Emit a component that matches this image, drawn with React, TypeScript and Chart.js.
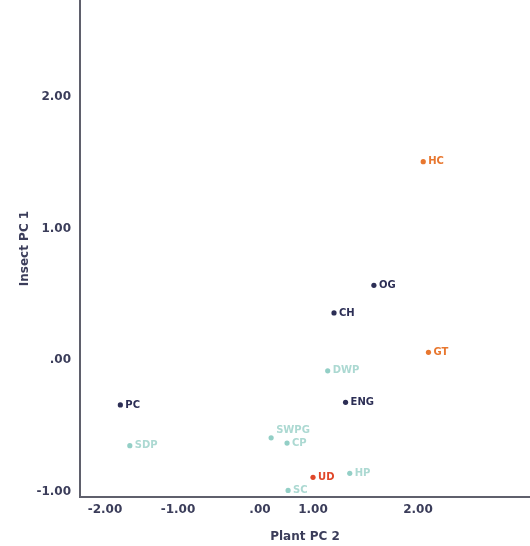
import React, { useEffect, useRef } from 'react';
import { Chart, registerables, LinearScale } from 'chart.js';

// ---- data ----
const sites = ['HC', 'OG', 'CH', 'GT', 'DWP', 'PC', 'ENG', 'SWPG', 'CP', 'SDP', 'UD', 'HP', 'SC'];
const plantPC2 = [2.05, 1.58, 1.2, 2.1, 1.14, -1.79, 1.31, 0.21, 0.51, -1.66, 1.0, 1.35, 0.53];
const insectPC1 = [1.51, 0.57, 0.36, 0.06, -0.08, -0.34, -0.32, -0.59, -0.63, -0.65, -0.89, -0.86, -0.99];
const siteGroup = ['orange', 'navy', 'navy', 'orange', 'teal', 'navy', 'navy', 'teal', 'teal', 'teal', 'red', 'teal', 'teal'];

const xTicks = [-2, -1, 0, 1, 2];
const yTicks = [-1, 0, 1, 2];

// The original figure's x axis is not evenly spaced: knot values and their
// fractional position along the axis.
const X_KNOT_VALUES = [-2.34, -2, -1, 0, 1, 2, 3.07];
const X_KNOT_FRACTIONS = [0, 0.0556, 0.2178, 0.4, 0.5178, 0.7511, 1];

const groupOrder = ['navy', 'orange', 'red', 'teal'];
const groupPointColor: Record<string, string> = {
  navy: '#2c2e55',
  orange: '#e8772f',
  red: '#e0472a',
  teal: '#93cfc6',
};
const groupLabelColor: Record<string, string> = {
  navy: '#2c2e55',
  orange: '#e8772f',
  red: '#e0472a',
  teal: '#acd9d2',
};
const labelNudgeY: Record<string, number> = { SWPG: -7 };

const AXIS_TEXT = '#3b3d5a';
const FONT = '"DejaVu Sans", sans-serif';

function interp(v: number, from: number[], to: number[]) {
  const n = from.length;
  let i = 0;
  if (v <= from[0]) i = 0;
  else if (v >= from[n - 1]) i = n - 2;
  else {
    while (i < n - 2 && v > from[i + 1]) i++;
  }
  const t = (v - from[i]) / (from[i + 1] - from[i]);
  return to[i] + t * (to[i + 1] - to[i]);
}

class PiecewiseScale extends LinearScale {
  static id = 'piecewise';
  static defaults = LinearScale.defaults;
  getPixelForValue(value: any) {
    if (value === null || value === undefined || isNaN(value)) return NaN;
    return this.getPixelForDecimal(interp(value, X_KNOT_VALUES, X_KNOT_FRACTIONS));
  }
  getValueForPixel(pixel: number) {
    return interp(this.getDecimalForPixel(pixel), X_KNOT_FRACTIONS, X_KNOT_VALUES);
  }
}

Chart.register(...registerables, PiecewiseScale as any);

const fmt = (v: any) => (Number(v) === 0 ? '.00' : Number(v).toFixed(2));

const pointLabelPlugin = {
  id: 'pointLabels',
  afterDatasetsDraw(chart: any) {
    const ctx = chart.ctx;
    ctx.save();
    ctx.font = `bold 10px ${FONT}`;
    ctx.textBaseline = 'middle';
    ctx.textAlign = 'left';
    chart.data.datasets.forEach((ds: any, di: number) => {
      const meta = chart.getDatasetMeta(di);
      meta.data.forEach((el: any, i: number) => {
        const name = ds.siteNames[i];
        ctx.fillStyle = ds.labelColor;
        ctx.fillText(name, el.x + 5, el.y + (labelNudgeY[name] || 0));
      });
    });
    ctx.restore();
  },
};

export default function App() {
  const canvasRef = useRef<HTMLCanvasElement | null>(null);

  useEffect(() => {
    document.body.style.margin = '0';
    const datasets = groupOrder.map((g) => {
      const idx = sites.map((_, i) => i).filter((i) => siteGroup[i] === g);
      return {
        label: g,
        data: idx.map((i) => ({ x: plantPC2[i], y: insectPC1[i] })),
        siteNames: idx.map((i) => sites[i]),
        labelColor: groupLabelColor[g],
        backgroundColor: groupPointColor[g],
        borderColor: groupPointColor[g],
        pointRadius: 2.6,
        pointBorderWidth: 0,
      } as any;
    });

    const chart = new Chart(canvasRef.current as HTMLCanvasElement, {
      type: 'scatter',
      data: { datasets },
      options: {
        animation: false,
        responsive: true,
        maintainAspectRatio: false,
        layout: { padding: 0, autoPadding: false },
        plugins: { legend: { display: false }, tooltip: { enabled: false } },
        scales: {
          x: {
            type: 'piecewise' as any,
            min: X_KNOT_VALUES[0],
            max: X_KNOT_VALUES[X_KNOT_VALUES.length - 1],
            grid: { display: false, drawTicks: false },
            border: { display: true, color: '#5f606c', width: 2 },
            afterBuildTicks: (s: any) => {
              s.ticks = xTicks.map((v) => ({ value: v }));
            },
            afterFit: (s: any) => {
              s.height = 49;
              s.paddingLeft = 0;
              s.paddingRight = 0;
            },
            ticks: {
              callback: fmt,
              color: AXIS_TEXT,
              font: { family: FONT, size: 12, weight: 'bold' },
              padding: 6,
              maxRotation: 0,
              autoSkip: false,
            },
            title: {
              display: true,
              text: 'Plant PC 2',
              color: AXIS_TEXT,
              font: { family: FONT, size: 12, weight: 'bold' },
              padding: { top: 0, bottom: 2 },
            },
          } as any,
          y: {
            type: 'linear',
            min: -1.04,
            max: 2.74,
            grid: { display: false, drawTicks: false },
            border: { display: true, color: '#5f606c', width: 2 },
            afterBuildTicks: (s: any) => {
              s.ticks = yTicks.map((v) => ({ value: v }));
            },
            afterFit: (s: any) => {
              s.width = 80;
              s.paddingTop = 0;
              s.paddingBottom = 0;
            },
            ticks: {
              callback: fmt,
              color: AXIS_TEXT,
              font: { family: FONT, size: 12, weight: 'bold' },
              padding: 9,
              autoSkip: false,
            },
            title: {
              display: true,
              text: 'Insect PC 1',
              color: AXIS_TEXT,
              font: { family: FONT, size: 12, weight: 'bold' },
              padding: { top: 18, bottom: 0 },
            },
          },
        },
      },
      plugins: [pointLabelPlugin],
    });
    return () => chart.destroy();
  }, []);

  return (
    <div style={{ position: 'absolute', left: 0, top: 0, width: 530, height: 546 }}>
      <canvas ref={canvasRef} />
    </div>
  );
}
